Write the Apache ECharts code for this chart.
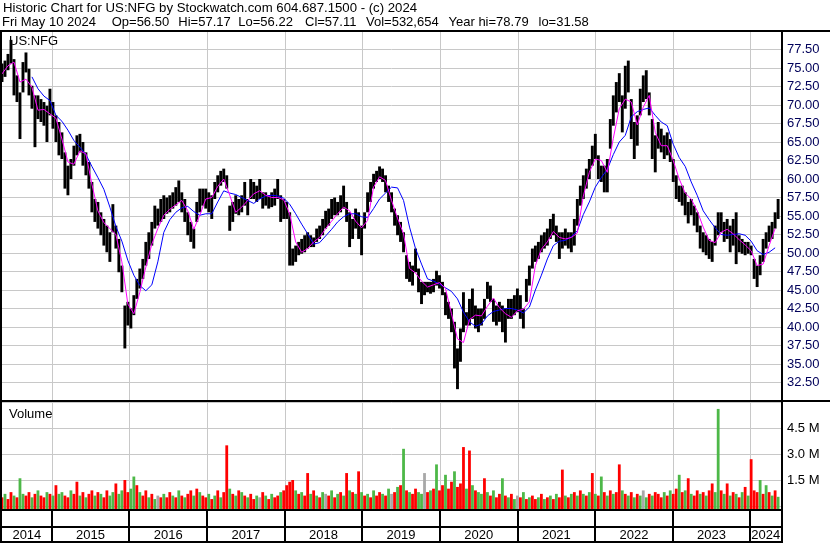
<!DOCTYPE html>
<html><head><meta charset="utf-8">
<script src="https://cdn.jsdelivr.net/npm/echarts@6/dist/echarts.min.js"></script>
<style>html,body{margin:0;padding:0;background:#fff}#c{width:830px;height:543px}</style>
</head><body><div id="c"></div>
<script>
// ---------- DATA ----------
const titleLine1 = 'Historic Chart for US:NFG by Stockwatch.com 604.687.1500 - (c) 2024';
const titleLine2Parts = ['Fri May 10 2024', 'Op=56.50', 'Hi=57.17', 'Lo=56.22', 'Cl=57.11', 'Vol=532,654', 'Year hi=78.79', 'lo=31.58'];
const symbolLabel = 'US:NFG';
const volumeLabel = 'Volume';
const yearLabels = ['2014','2015','2016','2017','2018','2019','2020','2021','2022','2023','2024'];
const firstSample = '2014-05-12';
const sampleStepDays = 14.1;   // one bar per ~two weeks
const priceHigh = [
75.6,76.0,76.9,78.8,76.2,74.0,71.7,75.8,77.1,74.9,72.6,71.3,71.3,70.8,70.4,69.9,72.2,70.4,68.6,67.7,
66.3,63.6,61.8,62.7,64.5,65.9,66.1,65.0,63.6,62.3,59.6,57.3,56.9,55.5,54.6,53.7,52.8,56.6,53.7,51.9,
48.3,42.9,43.4,42.5,44.3,46.5,47.9,49.2,51.5,52.8,54.2,56.4,56.0,57.3,57.8,57.5,57.8,58.2,58.9,59.8,
58.2,57.3,55.5,54.2,53.3,56.9,58.7,58.7,58.7,58.2,57.8,59.6,60.5,61.1,61.4,60.5,56.4,56.9,57.8,57.3,
57.8,59.6,57.3,60.0,59.6,59.1,60.0,58.2,58.2,57.8,58.2,58.7,60.0,57.8,57.3,56.9,55.5,50.6,51.0,51.5,
51.9,52.4,52.8,52.4,52.1,53.3,53.7,54.6,55.7,56.0,57.3,57.5,56.9,57.8,59.1,56.9,55.5,54.6,56.0,55.5,
53.7,55.5,58.2,59.6,60.7,61.1,61.7,61.4,60.5,59.1,58.2,56.0,55.1,54.2,52.8,49.7,48.8,48.3,50.6,47.9,
46.1,46.1,46.1,46.1,46.5,47.6,47.0,46.1,44.7,43.4,42.5,40.7,37.1,39.8,44.7,42.0,43.8,45.2,42.9,42.5,
42.5,43.8,46.1,45.6,43.8,42.9,43.4,42.9,42.5,43.8,43.8,44.3,45.2,44.3,42.5,46.5,48.3,50.6,51.0,51.5,
52.4,52.8,53.3,54.6,55.3,53.7,52.8,52.8,53.3,52.8,52.8,54.6,57.3,59.1,60.5,61.4,62.7,64.5,66.1,63.2,
61.8,61.8,62.7,68.1,71.3,73.1,74.3,71.3,75.3,76.0,70.8,67.7,68.6,72.2,74.0,74.7,71.7,68.1,65.9,67.7,
66.8,65.9,66.3,65.4,62.7,60.5,59.1,59.1,58.2,56.9,57.3,56.4,55.5,53.7,52.8,52.4,51.9,51.5,53.7,55.5,
55.5,54.2,54.6,53.7,54.6,55.5,52.4,51.9,51.5,51.5,51.0,49.2,48.3,49.7,51.9,52.8,53.7,54.2,55.5,57.3];
const priceLow = [
73.1,73.8,74.7,75.6,71.3,70.4,65.4,71.7,74.4,71.3,69.5,64.3,68.1,67.7,67.2,65.0,68.6,66.8,65.0,63.2,
62.7,58.7,57.8,60.0,61.8,63.2,63.6,61.8,60.5,58.7,55.5,54.2,53.3,52.4,51.0,50.1,48.8,52.8,50.6,47.4,
44.7,37.1,40.2,39.8,41.6,43.8,45.2,46.5,48.3,49.2,51.0,53.3,53.7,54.2,54.6,55.3,55.5,56.0,56.4,56.9,
55.5,54.2,52.4,51.5,50.6,54.2,55.5,56.4,56.0,55.5,54.6,57.3,58.2,59.1,59.6,58.7,53.0,54.2,55.3,55.1,
55.5,56.4,55.1,57.3,57.3,56.9,57.3,56.0,56.4,56.0,56.2,56.4,57.3,54.2,54.6,54.6,48.3,48.3,48.8,49.7,
49.9,50.1,50.6,50.8,50.8,51.5,51.9,52.4,53.3,53.7,54.6,55.1,55.1,55.5,56.0,54.2,50.8,51.9,53.3,51.9,
49.7,53.3,55.5,56.9,58.7,59.6,60.0,59.6,58.2,56.9,55.5,53.7,52.4,51.5,50.1,46.5,46.1,45.6,47.4,44.7,
43.1,44.3,44.7,44.5,44.7,45.6,45.2,44.3,41.6,41.1,39.3,34.4,31.6,35.3,39.3,40.2,40.2,41.1,39.8,39.3,
40.2,41.1,43.8,43.4,40.7,40.2,40.7,39.3,37.9,41.1,41.1,41.6,42.0,41.1,39.8,43.4,45.6,47.9,48.8,49.2,
50.1,50.6,51.0,51.9,52.4,51.5,49.2,50.6,51.0,50.6,50.1,51.0,53.7,56.4,57.3,58.7,60.0,61.8,62.7,60.0,
59.6,58.2,58.2,64.1,67.2,69.0,70.4,66.3,69.5,71.7,65.4,62.7,64.5,68.6,70.4,70.8,68.6,62.7,60.9,64.1,
63.6,62.7,63.2,62.3,59.6,57.3,56.9,56.4,55.1,54.0,55.1,53.7,52.8,50.6,50.1,49.7,49.2,48.8,51.0,52.4,
52.8,51.5,51.9,50.1,51.0,48.5,50.1,49.9,49.7,49.9,49.7,46.5,45.4,47.0,48.8,50.6,51.5,51.9,53.3,54.6];
// moving averages, one value every second bar
const maShort = [
74.2,75.3,75.8,73.1,73.5,72.4,69.3,69.4,68.8,68.2,65.4,62.3,62.0,63.8,63.4,59.3,55.7,54.1,53.3,52.5,
48.8,43.1,41.8,44.7,48.1,51.2,53.3,55.1,55.9,56.5,57.1,55.7,53.2,55.1,57.3,57.5,59.0,60.0,57.8,55.5,
56.2,57.1,58.0,58.4,57.8,57.5,57.5,57.2,55.3,51.5,50.1,50.6,51.5,52.1,53.3,54.3,55.3,56.2,55.7,54.3,
53.4,54.4,58.9,60.3,59.8,57.1,54.7,52.6,47.9,47.3,46.2,45.4,45.7,46.0,45.2,41.8,38.4,37.9,41.0,41.6,
41.5,42.8,43.9,42.6,41.8,41.3,42.2,42.4,43.4,48.3,50.5,51.5,52.9,52.1,51.9,52.1,52.7,57.7,60.9,62.7,
62.5,60.9,65.5,69.5,70.8,70.4,67.3,69.7,71.3,66.3,64.5,64.5,62.5,60.0,58.1,57.3,55.7,53.5,51.7,51.4,
52.8,53.2,52.6,51.8,51.1,50.3,48.3,48.5,51.0,53.3];
const maLong = [
null,null,null,null,null,73.8,72.2,71.2,70.6,68.6,67.8,66.6,65.2,64.3,63.3,61.7,60.2,58.6,56.2,53.6,
51.6,49.0,47.0,45.6,44.9,45.7,48.8,52.8,54.5,55.5,56.1,56.3,55.6,55.1,55.3,55.3,56.9,58.4,58.1,57.9,
57.5,57.1,56.7,57.3,57.7,57.8,57.7,57.4,56.6,55.3,53.9,52.6,51.2,51.4,52.3,53.2,54.2,54.9,55.3,55.3,
54.9,54.8,56.0,57.3,58.1,58.9,58.8,57.1,53.5,50.6,48.5,46.5,46.2,45.8,45.3,44.8,43.8,42.0,40.7,40.1,
40.4,41.5,42.1,42.3,42.5,42.5,42.3,41.9,42.7,45.0,47.0,49.2,51.0,51.6,51.7,52.2,53.0,55.2,56.9,58.9,
60.2,61.3,63.3,65.0,65.9,68.4,69.1,69.4,69.6,68.6,67.7,67.2,64.7,62.9,61.7,59.6,57.8,55.7,54.5,53.4,
52.5,52.4,52.5,52.6,52.4,51.6,50.3,49.8,50.1,50.7];
// volume in millions per bar, and direction of each bar: g = up, r = down, k = unchanged
const volumeM = [
0.5,0.7,0.4,0.8,0.6,0.5,1.6,0.7,0.6,0.8,0.5,0.7,0.9,0.6,0.5,0.8,0.7,0.6,1.2,0.7,
0.8,0.6,0.5,0.9,0.7,1.4,0.6,0.8,0.5,0.7,0.9,0.6,0.8,0.7,0.5,0.9,0.6,0.8,1.3,0.7,
0.9,1.5,0.8,1.0,1.7,1.2,0.8,0.6,0.9,0.5,0.7,0.4,0.6,0.5,0.7,0.5,0.8,0.6,0.5,0.9,
0.6,0.5,0.7,0.9,0.6,1.0,0.8,0.6,0.5,0.7,0.4,0.6,0.9,0.5,0.8,3.5,1.0,0.7,0.6,0.9,
0.8,0.6,0.5,0.7,0.4,0.6,0.5,0.8,0.6,0.4,0.7,0.5,0.6,0.8,0.9,1.2,1.4,1.5,0.9,0.7,
0.8,0.6,1.9,0.7,0.9,0.6,0.5,0.8,0.7,0.6,0.9,0.5,0.7,0.8,0.6,1.9,0.9,0.8,0.7,2.0,
0.8,0.6,0.7,0.5,0.9,0.6,0.8,0.7,0.6,1.0,0.7,0.8,1.1,1.2,3.3,0.9,0.8,0.7,1.0,0.8,
0.7,1.9,0.8,0.9,1.0,2.4,0.9,1.2,1.8,1.0,1.4,2.0,1.1,1.3,3.4,1.0,3.2,1.2,0.9,0.8,
0.7,1.6,0.8,0.6,0.9,0.5,0.7,1.6,0.6,0.5,0.7,0.4,0.6,0.5,0.8,0.4,0.5,0.6,0.4,0.5,
0.7,0.4,0.5,0.6,0.4,0.7,0.5,2.1,0.6,0.5,0.7,0.8,0.6,0.9,0.7,0.6,0.8,1.9,0.7,0.6,
1.7,0.8,0.6,0.9,0.7,0.8,2.4,0.9,0.7,0.6,0.8,0.5,0.7,0.6,0.9,0.5,0.7,0.6,0.8,0.7,
0.5,0.8,0.6,0.9,0.7,1.0,1.8,0.8,0.9,1.6,0.7,0.6,0.9,0.7,0.8,0.6,0.9,1.3,0.8,5.6,
0.9,0.7,1.3,0.6,0.8,0.7,0.5,0.8,1.1,0.6,2.7,0.9,0.8,1.5,0.7,1.2,0.8,0.6,0.9,0.53];
const volumeDir =
 'rgrrgrggrrgrgrrgrgrg' + 'grrgrrgrgrrgrgrrggrg' + 'grrggrgrrgrgkrgrrgrg' + 'rgrrgrgrrgrgrgrrgrgr' +
 'grgrrgkrgrgrrgrrrrgr' + 'grrgrgrgkrgrgrgrgrgr' + 'grgrgrrgrgkrgrgrgrrg' + 'gkrgrgrrgrrgrrrgrgrg' +
 'grgrgrrgrgrgkrgrgrrg' + 'rgrgrgrrgrgrgrgrgrgr' + 'grgrgrrgrgrgrgkgrgrr' + 'rgrgrrgrgrgrrgrgrrgg' +
 'rgrgrgrgrgrrrgrgrgrg';
const priceAxis = {min: 30, max: 80, step: 2.5};
const volumeAxis = {min: 0, max: 6, step: 1.5};
const axisStart = '2014-05-12', axisEnd = '2024-05-24T12:00:00Z';

// ---------- BUILD ----------
const DAY = 86400000;
const t0 = Date.parse(firstSample + 'T00:00:00Z');
const sampleTime = i => t0 + i * sampleStepDays * DAY;
const barData = priceHigh.map((h, i) => [sampleTime(i), priceLow[i], h]);
const maShortData = maShort.map((v, k) => [sampleTime(2 * k), v]);
const maLongData = maLong.map((v, k) => [sampleTime(2 * k), v]);
const volData = volumeM.map((v, i) => [sampleTime(i), v]);
const yearStarts = yearLabels.slice(1).map(y => Date.UTC(+y, 0, 1));
const xMin = Date.parse(axisStart + 'T00:00:00Z'), xMax = Date.parse(axisEnd);
const segs = yearLabels.map((y, i) => [Math.max(xMin, Date.UTC(+y, 0, 1)), Math.min(xMax, Date.UTC(+y + 1, 0, 1)), i]);
const FONT = '"Liberation Sans", Arial, sans-serif';
const dirColor = {g: '#4DB848', r: '#FF0000', k: '#A8A8A8'};
const line2X = [2, 111.7, 178.3, 238.3, 305, 366, 448.5, 538.5];

function vLines(color, width) {
  return function (params, api) {
    const x = api.coord([api.value(0), 0])[0];
    const cs = params.coordSys;
    const off = width % 2 ? 0.5 : 0;
    return {type: 'line', shape: {x1: Math.round(x) + off, y1: cs.y, x2: Math.round(x) + off, y2: cs.y + cs.height},
      style: {stroke: color, lineWidth: width}, silent: true};
  };
}

const chart = echarts.init(document.getElementById('c'), null, {renderer: 'canvas'});
const xBase = {type: 'time', min: xMin, max: xMax, axisLine: {show: false}, axisTick: {show: false},
  axisLabel: {show: false}, splitLine: {show: false}};
const texts = [
  {type: 'text', x: 3, y: 8.7, style: {text: titleLine1, font: '13.2px ' + FONT, fill: '#000', verticalAlign: 'middle'}},
  {type: 'text', x: 9, y: 41, z: 10, style: {text: symbolLabel, font: '13px ' + FONT, fill: '#000', verticalAlign: 'middle'}},
  {type: 'text', x: 9, y: 414, z: 10, style: {text: volumeLabel, font: '13px ' + FONT, fill: '#000', verticalAlign: 'middle'}}
].concat(titleLine2Parts.map((s, i) => ({type: 'text', x: line2X[i], y: 22.6,
  style: {text: s, font: '13px ' + FONT, fill: '#000', verticalAlign: 'middle'}})));
chart.setOption({
  animation: false,
  backgroundColor: '#fff',
  grid: [
    {left: 2, top: 31, width: 779, height: 370, show: false},
    {left: 2, top: 402, width: 779, height: 104, show: false},
    {left: 2, top: 509, width: 779, height: 32, show: false}
  ],
  xAxis: [Object.assign({gridIndex: 0}, xBase), Object.assign({gridIndex: 1}, xBase), Object.assign({gridIndex: 2}, xBase)],
  yAxis: [
    {gridIndex: 0, type: 'value', position: 'right', min: priceAxis.min, max: priceAxis.max, interval: priceAxis.step,
      axisLine: {show: false}, axisTick: {show: false},
      axisLabel: {margin: 6, fontSize: 13, fontFamily: FONT, color: '#00005a', showMinLabel: false, showMaxLabel: false,
        formatter: v => v.toFixed(2)},
      splitLine: {lineStyle: {color: '#C8C8C8', width: 1}}},
    {gridIndex: 1, type: 'value', position: 'right', min: volumeAxis.min, max: volumeAxis.max, interval: volumeAxis.step,
      axisLine: {show: false}, axisTick: {show: false},
      axisLabel: {margin: 6, fontSize: 13, fontFamily: FONT, color: '#000', showMinLabel: false, showMaxLabel: false,
        formatter: v => v.toFixed(1) + ' M'},
      splitLine: {lineStyle: {color: '#C8C8C8', width: 1}}},
    {gridIndex: 2, type: 'value', min: 0, max: 1, show: false}
  ],
  series: [
    {type: 'custom', xAxisIndex: 0, yAxisIndex: 0, z: 1, data: yearStarts.map(t => [t]), renderItem: vLines('#C8C8C8', 1), encode: {x: 0}},
    {type: 'custom', xAxisIndex: 1, yAxisIndex: 1, z: 1, data: yearStarts.map(t => [t]), renderItem: vLines('#C8C8C8', 1), encode: {x: 0}},
    {type: 'custom', xAxisIndex: 2, yAxisIndex: 2, z: 1, data: yearStarts.map(t => [t]), renderItem: vLines('#000', 2), encode: {x: 0}},
    {type: 'custom', xAxisIndex: 0, yAxisIndex: 0, z: 3, clip: true, data: barData, encode: {x: 0, y: [1, 2]},
      renderItem: function (params, api) {
        const top = api.coord([api.value(0), api.value(2)]);
        const bot = api.coord([api.value(0), api.value(1)]);
        return {type: 'rect', shape: {x: top[0] - 1.45, y: top[1], width: 2.9, height: Math.max(1, bot[1] - top[1])},
          style: {fill: '#000'}};
      }},
    {type: 'line', xAxisIndex: 0, yAxisIndex: 0, z: 4, data: maLongData, showSymbol: false, symbol: 'none',
      lineStyle: {color: '#0000FF', width: 1}, connectNulls: false},
    {type: 'line', xAxisIndex: 0, yAxisIndex: 0, z: 5, data: maShortData, showSymbol: false, symbol: 'none',
      lineStyle: {color: '#FF00FF', width: 1}},
    {type: 'custom', xAxisIndex: 1, yAxisIndex: 1, z: 3, data: volData, encode: {x: 0, y: 1},
      renderItem: function (params, api) {
        const top = api.coord([api.value(0), api.value(1)]);
        const base = params.coordSys.y + params.coordSys.height + 3;
        return {type: 'rect', shape: {x: top[0] - 1.4, y: top[1], width: 2.8, height: base - top[1]},
          style: {fill: dirColor[volumeDir[params.dataIndex]]}};
      }},
    {type: 'custom', xAxisIndex: 2, yAxisIndex: 2, z: 3, data: segs, encode: {x: [0, 1]},
      renderItem: function (params, api) {
        const a = api.coord([api.value(0), 0])[0], b = api.coord([api.value(1), 0])[0];
        const cs = params.coordSys;
        return {type: 'text', x: (a + b) / 2, y: cs.y + 26,
          style: {text: yearLabels[api.value(2)], font: '13px ' + FONT, fill: '#000', align: 'center', verticalAlign: 'middle'}};
      }}
  ],
  graphic: texts.concat([
    {type: 'rect', shape: {x: 0, y: 30, width: 830, height: 2}, style: {fill: '#000'}, z: 20},
    {type: 'rect', shape: {x: 0, y: 30, width: 2, height: 513}, style: {fill: '#000'}, z: 20},
    {type: 'rect', shape: {x: 781, y: 30, width: 2, height: 513}, style: {fill: '#000'}, z: 20},
    {type: 'rect', shape: {x: 0, y: 400, width: 830, height: 2}, style: {fill: '#000'}, z: 20},
    {type: 'rect', shape: {x: 0, y: 509, width: 783, height: 2}, style: {fill: '#000'}, z: 20},
    {type: 'rect', shape: {x: 0, y: 526, width: 783, height: 2}, style: {fill: '#000'}, z: 20},
    {type: 'rect', shape: {x: 0, y: 541, width: 783, height: 2}, style: {fill: '#000'}, z: 20}
  ])
});
</script></body></html>
